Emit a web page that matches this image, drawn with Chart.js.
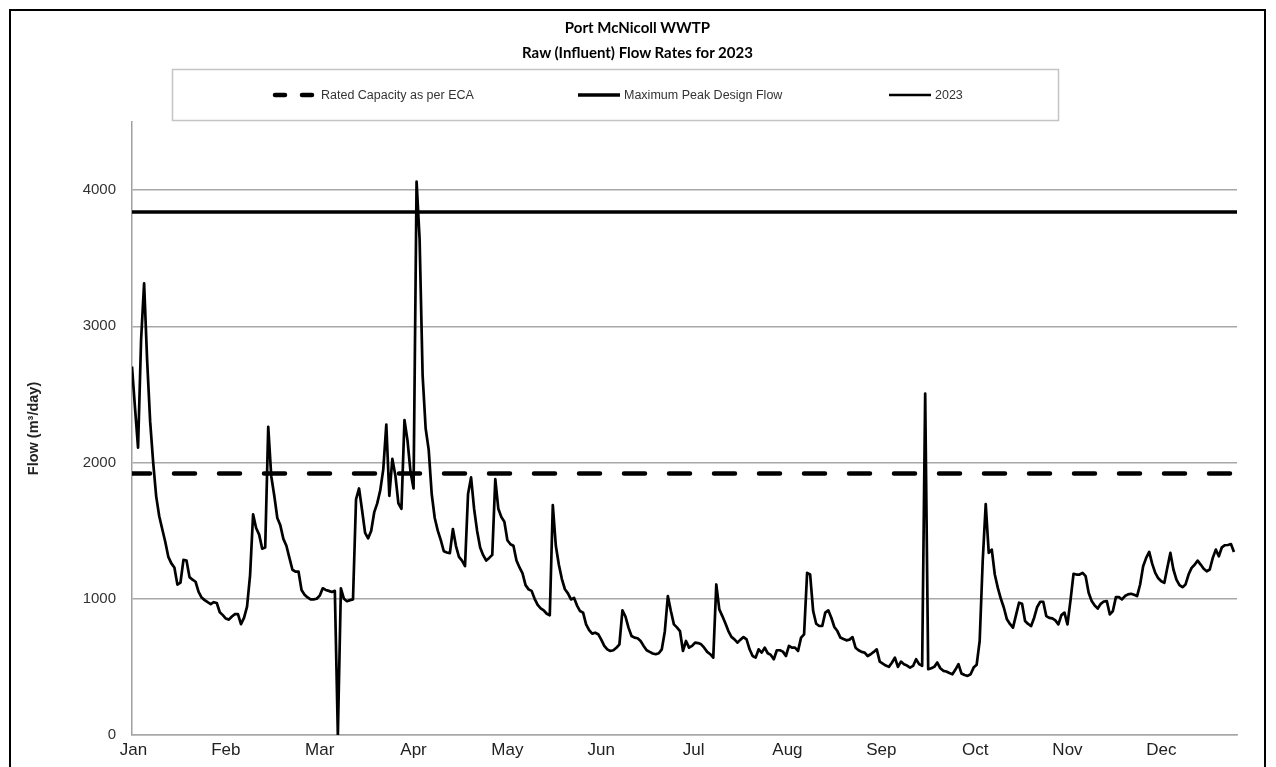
<!DOCTYPE html>
<html>
<head>
<meta charset="utf-8">
<script src="https://cdn.jsdelivr.net/npm/chart.js@4.4.1/dist/chart.umd.min.js"></script>
<style>
    html, body { margin: 0; padding: 0; background: #fff; }
    body { width: 1276px; height: 767px; overflow: hidden; position: relative; }
    #chart { position: absolute; left: 0; top: 0; }
    .frame {
        position: absolute; left: 9px; top: 9px;
        width: 1253px; height: 800px;
        border: 2px solid #000;
        pointer-events: none;
    }
    .title {
        position: absolute; left: 11px; width: 1253px;
        text-align: center;
        font: bold 15px Lato, "Open Sans", sans-serif;
        color: #000;
        line-height: 20px;
    }
</style>
</head>
<body>
<canvas id="chart" width="1276" height="767"></canvas>
<div class="title" style="top: 17px;">Port McNicoll WWTP</div>
<div class="title" style="top: 42px;">Raw (Influent) Flow Rates for 2023</div>
<div class="frame"></div>
<script>
// Daily raw influent flow (m3/day) for 2023, one array per month
const jan = [2705, 2400, 2110, 2900, 3316, 2750, 2300, 2000, 1750, 1606,
             1510, 1417, 1308, 1260, 1230, 1104, 1118, 1286, 1281, 1159,
             1140, 1125, 1050, 1009, 990, 975, 961, 975, 969, 901, 880];
const feb = [855, 847, 870, 887, 887, 814, 860, 942, 1172, 1620,
             1520, 1471, 1368, 1376, 2263, 1900, 1756, 1593, 1539, 1440,
             1389, 1300, 1213, 1199, 1200, 1064, 1030, 1010];
const mar = [996, 996, 1000, 1023, 1077, 1065, 1058, 1050, 1058, 0,
             1077, 1000, 982, 990, 996, 1729, 1810, 1650, 1484, 1444,
             1498, 1634, 1700, 1796, 1950, 2279, 1756, 2027, 1905, 1701, 1661];
const apr = [2312, 2163, 1932, 1810, 4062, 3642, 2638, 2250, 2095, 1769,
             1593, 1500, 1430, 1349, 1340, 1335, 1512, 1389, 1308, 1280,
             1240, 1769, 1891, 1661, 1498, 1376, 1320, 1281, 1300, 1322];
const may = [1878, 1661, 1600, 1566, 1430, 1400, 1389, 1281, 1230, 1186,
             1100, 1069, 1058, 1000, 955, 930, 915, 890, 879, 1688,
             1389, 1250, 1145, 1070, 1040, 995, 1007, 950, 910, 898, 812];
const jun = [770, 744, 751, 740, 700, 654, 629, 617, 622, 640,
             666, 915, 870, 788, 727, 715, 710, 690, 654, 622,
             610, 598, 593, 600, 629, 760, 1020, 910, 812, 790];
const jul = [763, 617, 690, 641, 654, 678, 675, 666, 641, 610,
             593, 568, 1105, 922, 873, 820, 763, 720, 702, 678,
             700, 719, 702, 629, 580, 568, 629, 605, 641, 600, 588];
const aug = [556, 622, 622, 612, 580, 654, 641, 641, 617, 715,
             739, 1190, 1178, 910, 817, 800, 800, 898, 915, 861,
             793, 763, 715, 705, 695, 700, 719, 641, 622, 610, 605];
const sep = [580, 593, 610, 629, 539, 524, 510, 500, 530, 568,
             500, 539, 520, 510, 495, 507, 556, 520, 507, 2507,
             483, 490, 500, 532, 490, 471, 466, 455, 446, 480];
const oct = [520, 451, 440, 434, 446, 495, 515, 690, 1276, 1695,
             1337, 1361, 1178, 1080, 1000, 934, 849, 815, 788, 880,
             971, 963, 837, 815, 800, 861, 940, 978, 978, 873, 860];
const nov = [856, 841, 812, 880, 898, 812, 988, 1183, 1178, 1178,
             1190, 1166, 1044, 983, 950, 929, 963, 980, 983, 885,
             910, 1012, 1012, 995, 1020, 1032, 1037, 1030, 1020, 1105];
const dec = [1239, 1300, 1344, 1256, 1190, 1150, 1129, 1117, 1230, 1337,
             1215, 1141, 1100, 1085, 1105, 1178, 1227, 1250, 1280, 1251,
             1220, 1202, 1215, 1300, 1361, 1312, 1378, 1393, 1395, 1402, 1344];

const flow2023 = [].concat(jan, feb, mar, apr, may, jun, jul, aug, sep, oct, nov, dec);

const ratedCapacity = 1920;   // Rated Capacity as per ECA
const peakDesignFlow = 3840;  // Maximum Peak Design Flow

const months = ['Jan', 'Feb', 'Mar', 'Apr', 'May', 'Jun', 'Jul', 'Aug', 'Sep', 'Oct', 'Nov', 'Dec'];
const monthTicks = [0.5, 31, 62, 93, 124, 155, 185.5, 216.5, 247.5, 278.5, 309, 340];
const yTicks = [0, 1000, 2000, 3000, 4000];

const dayMin = 0;
const dayMax = 365;

// legend drawn inside the grey box under the title
const legendX = [273, 576, 887];
const legendBox = {
    id: 'legendBox',
    afterDraw(chart) {
        const ctx = chart.ctx;
        ctx.save();
        ctx.strokeStyle = '#c4c4c4';
        ctx.lineWidth = 1.5;
        ctx.strokeRect(172.5, 69.5, 886, 51);
        ctx.font = '12.5px "Liberation Sans", Arial, sans-serif';
        ctx.textBaseline = 'middle';
        chart.data.datasets.forEach((ds, i) => {
            const x = legendX[i];
            const y = 95;
            ctx.beginPath();
            ctx.lineCap = ds.borderDash ? 'round' : 'butt';
            ctx.setLineDash(ds.borderDash ? [10, 17] : []);
            ctx.lineWidth = ds.borderWidth;
            ctx.strokeStyle = ds.borderColor;
            ctx.moveTo(x + 2, y);
            ctx.lineTo(x + 44, y);
            ctx.stroke();
            ctx.fillStyle = '#333';
            ctx.fillText(ds.label, x + 48, y + 0.5);
        });
        ctx.restore();
    }
};

new Chart(document.getElementById('chart'), {
    type: 'line',
    data: {
        datasets: [
            {
                label: 'Rated Capacity as per ECA',
                data: [{ x: dayMin, y: ratedCapacity }, { x: dayMax, y: ratedCapacity }],
                borderColor: '#000',
                borderWidth: 4.5,
                borderDash: [21, 24],
                borderDashOffset: 3,
                borderCapStyle: 'round',
                pointRadius: 0
            },
            {
                label: 'Maximum Peak Design Flow',
                data: [{ x: dayMin, y: peakDesignFlow }, { x: dayMax, y: peakDesignFlow }],
                borderColor: '#000',
                borderWidth: 3.5,
                pointRadius: 0
            },
            {
                label: '2023',
                data: flow2023.map((v, i) => ({ x: i, y: v })),
                borderColor: '#000',
                borderWidth: 2.7,
                borderJoinStyle: 'round',
                pointRadius: 0,
                tension: 0
            }
        ]
    },
    options: {
        responsive: false,
        animation: false,
        devicePixelRatio: 1,
        layout: { padding: { left: 0, right: 39, top: 122, bottom: 0 } },
        plugins: {
            legend: { display: false },
            tooltip: { enabled: false },
            title: { display: false }
        },
        scales: {
            x: {
                type: 'linear',
                min: dayMin,
                max: dayMax,
                afterBuildTicks: (scale) => {
                    scale.ticks = monthTicks.map(v => ({ value: v }));
                },
                afterFit: (scale) => { scale.height = 32; },
                ticks: {
                    autoSkip: false,
                    maxRotation: 0,
                    padding: 5,
                    color: '#222',
                    font: { family: 'Liberation Sans', size: 17 },
                    callback: (v, i) => months[i]
                },
                grid: { display: false, drawTicks: false },
                border: { display: true, color: '#a8a8a8', width: 1.5 }
            },
            y: {
                min: 0,
                max: 4500,
                afterBuildTicks: (scale) => {
                    scale.ticks = yTicks.map(v => ({ value: v }));
                },
                afterFit: (scale) => { scale.width = 132; },
                ticks: {
                    padding: 16,
                    color: '#333',
                    font: { family: 'Liberation Sans', size: 15 },
                    callback: (v) => v
                },
                grid: { color: '#a8a8a8', lineWidth: 1.5, drawTicks: false },
                border: { display: true, color: '#a0a0a0', width: 1.5 },
                title: {
                    display: true,
                    text: 'Flow (m³/day)',
                    color: '#222',
                    font: { family: 'Liberation Sans', size: 14.5, weight: 'bold' },
                    padding: { top: 25, bottom: 0 }
                }
            }
        }
    },
    plugins: [legendBox]
});
</script>
</body>
</html>
